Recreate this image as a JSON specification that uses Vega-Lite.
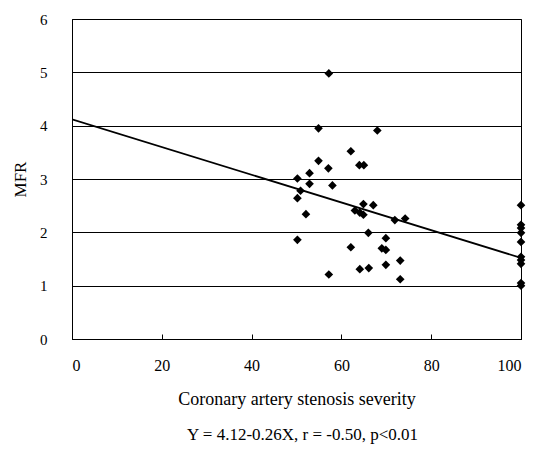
{
  "$schema": "https://vega.github.io/schema/vega-lite/v6.json",
  "width": 449,
  "height": 320,
  "autosize": {"type": "none"},
  "padding": {"left": 72, "top": 19, "right": 16, "bottom": 116},
  "background": "white",
  "title": {
    "text": "Y = 4.12-0.26X, r = -0.50, p<0.01",
    "orient": "bottom",
    "anchor": "middle",
    "font": "Liberation Serif",
    "fontSize": 17,
    "fontWeight": "normal",
    "color": "black",
    "offset": 19,
    "dx": 6
  },
  "config": {
    "view": {"stroke": "black", "strokeWidth": 1},
    "axis": {
      "labelFont": "Liberation Serif",
      "titleFont": "Liberation Serif",
      "labelColor": "black",
      "titleColor": "black",
      "titleFontWeight": "normal",
      "domainColor": "black",
      "tickColor": "black"
    }
  },
  "datasets": {
    "pts": [
      {"x": 57.2, "y": 4.98}, {"x": 54.9, "y": 3.95}, {"x": 68.0, "y": 3.91},
      {"x": 62.1, "y": 3.52}, {"x": 54.9, "y": 3.34}, {"x": 64.0, "y": 3.26},
      {"x": 65.0, "y": 3.26}, {"x": 57.1, "y": 3.2}, {"x": 52.9, "y": 3.11},
      {"x": 50.2, "y": 3.01}, {"x": 52.9, "y": 2.91}, {"x": 58.0, "y": 2.88},
      {"x": 50.9, "y": 2.78}, {"x": 50.2, "y": 2.64}, {"x": 64.9, "y": 2.53},
      {"x": 67.1, "y": 2.51}, {"x": 52.1, "y": 2.34}, {"x": 63.0, "y": 2.41},
      {"x": 64.1, "y": 2.37}, {"x": 64.9, "y": 2.33}, {"x": 71.9, "y": 2.23},
      {"x": 74.2, "y": 2.26}, {"x": 66.0, "y": 1.99}, {"x": 50.2, "y": 1.86},
      {"x": 69.9, "y": 1.89}, {"x": 62.1, "y": 1.72}, {"x": 69.0, "y": 1.7},
      {"x": 69.9, "y": 1.67}, {"x": 73.1, "y": 1.47}, {"x": 69.9, "y": 1.39},
      {"x": 64.1, "y": 1.31}, {"x": 66.1, "y": 1.33}, {"x": 57.2, "y": 1.21},
      {"x": 73.1, "y": 1.12},
      {"x": 100, "y": 2.51}, {"x": 100, "y": 2.14}, {"x": 100, "y": 2.08},
      {"x": 100, "y": 1.99}, {"x": 100, "y": 1.82}, {"x": 100, "y": 1.54},
      {"x": 100, "y": 1.48}, {"x": 100, "y": 1.41}, {"x": 100, "y": 1.05},
      {"x": 100, "y": 1.0}
    ],
    "fit": [
      {"x": 0, "y": 4.12}, {"x": 100, "y": 1.52}
    ]
  },
  "layer": [
    {
      "data": {"name": "fit"},
      "mark": {"type": "line", "color": "black", "strokeWidth": 1.8, "clip": true},
      "encoding": {
        "x": {"field": "x", "type": "quantitative"},
        "y": {"field": "y", "type": "quantitative"}
      }
    },
    {
      "data": {"name": "pts"},
      "mark": {"type": "point", "shape": "diamond", "filled": true, "color": "black", "opacity": 1, "size": 75},
      "encoding": {
        "x": {
          "field": "x", "type": "quantitative",
          "scale": {"domain": [0, 100], "nice": false},
          "axis": {
            "values": [0, 20, 40, 60, 80, 100],
            "title": "Coronary artery stenosis severity",
            "grid": false,
            "tickSize": -5,
            "labelFontSize": 16,
            "labelPadding": 23,
            "titleFontSize": 18,
            "titlePadding": 17
          }
        },
        "y": {
          "field": "y", "type": "quantitative",
          "scale": {"domain": [0, 6], "nice": false},
          "axis": {
            "values": [0, 1, 2, 3, 4, 5, 6],
            "title": "MFR",
            "grid": true,
            "gridColor": "black",
            "gridOpacity": 1,
            "gridWidth": 1,
            "ticks": false,
            "labelFontSize": 15,
            "labelPadding": 25,
            "titleFontSize": 17,
            "titlePadding": 10
          }
        }
      }
    }
  ]
}
